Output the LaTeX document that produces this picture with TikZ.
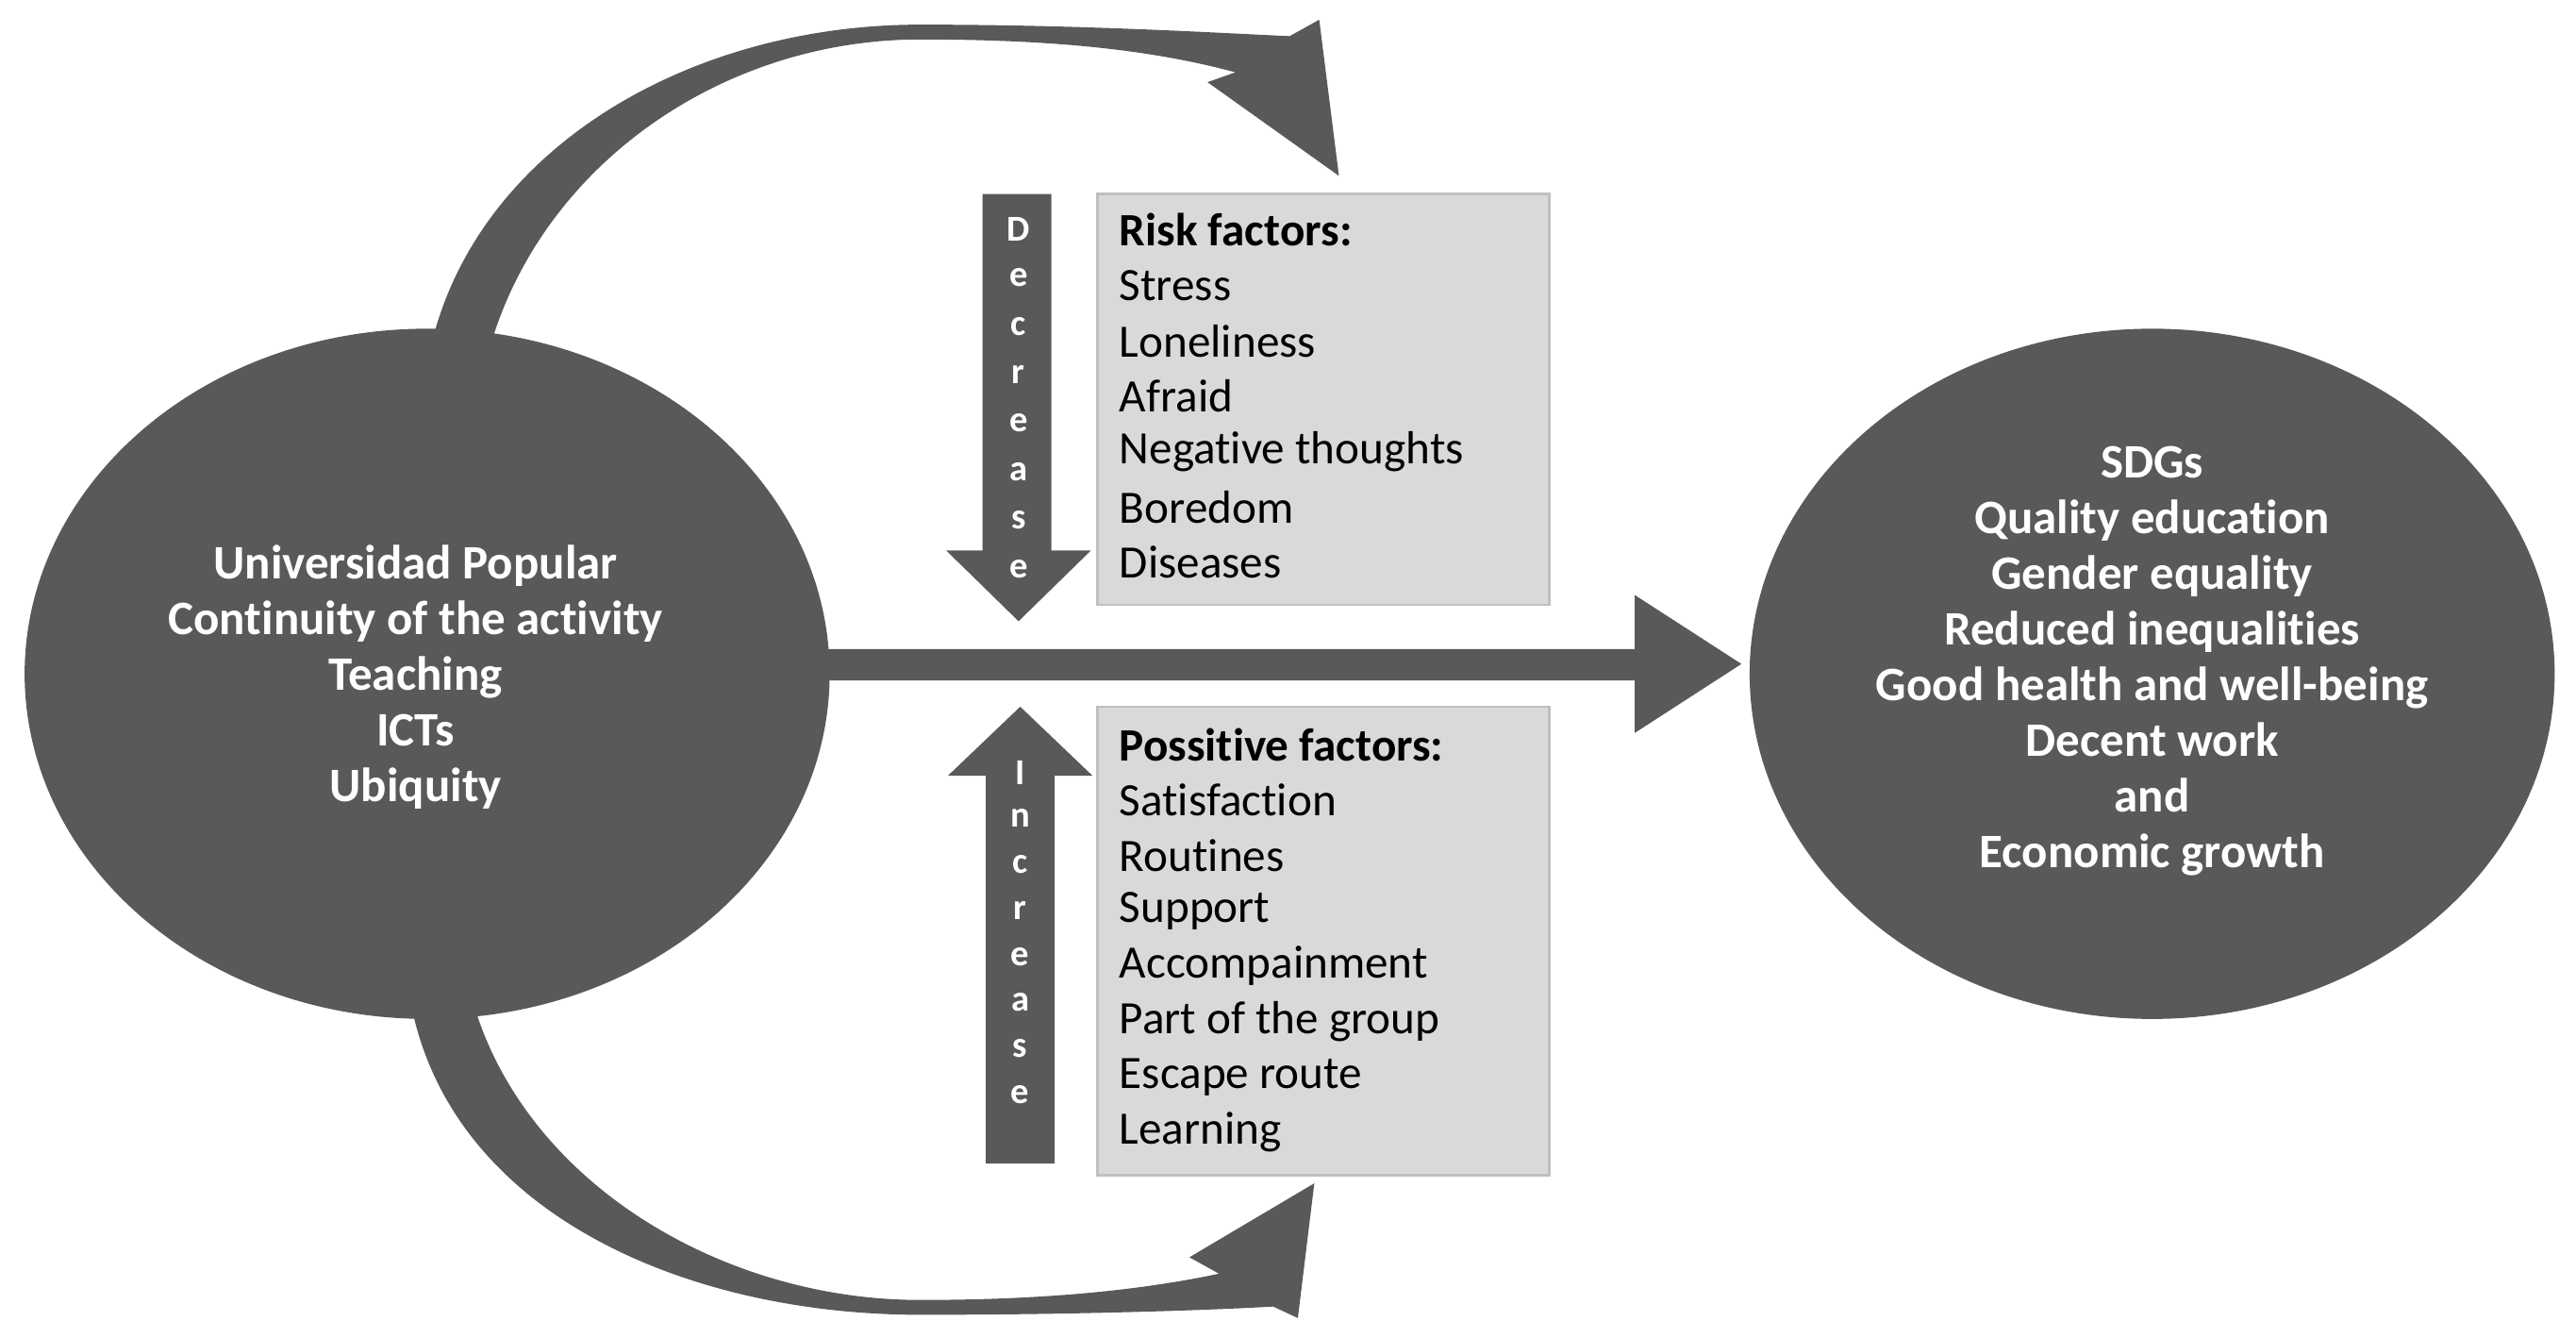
\documentclass[tikz,border=0pt]{standalone}
\usepackage{fontspec}
\setmainfont{Carlito}[RawFeature={-liga;-clig;-dlig;-calt}]
\definecolor{dk}{HTML}{595959}
\definecolor{bx}{HTML}{D9D9D9}
\definecolor{bxl}{HTML}{BFBFBF}
\begin{document}
\begin{tikzpicture}[x=0.01742cm,y=-0.01742cm,
  oval/.style={text=white,font=\fontsize{14.5}{16.8}\selectfont\bfseries,align=center,inner sep=0pt},
  box/.style={fill=bx,draw=bxl,line width=0.8pt},
  item/.style={anchor=west,font=\fontsize{14}{16.7}\selectfont,inner sep=0pt},
  letter/.style={text=white,font=\fontsize{11}{12}\selectfont\bfseries,inner sep=0pt}]
\useasboundingbox (0,0) rectangle (1568,814);
% ellipses
\fill[dk] (260,410) ellipse [x radius=245,y radius=210];
\fill[dk] (1310,410) ellipse [x radius=245,y radius=210];
\node[oval] (left) at (253,412) {Universidad Popular\\Continuity of the activity\\Teaching\\ICTs\\Ubiquity};
\node[oval] (right) at (1310,402) {SDGs\\Quality education\\Gender equality\\Reduced inequalities\\Good health and well-being\\Decent work\\and\\Economic growth};
% main arrow
\fill[dk] (503,395) -- (995,395) -- (995,362) -- (1060,404) -- (995,446) -- (995,414) -- (503,414) -- cycle;
% curved arrows
\fill[dk] (262,212) .. controls (290,90) and (420,15) .. (560,15) .. controls (660,15) and (740,20) .. (785,22)
  -- (803,12) -- (815,107) -- (735,50) -- (752,44) .. controls (700,30) and (640,24) .. (560,24)
  .. controls (440,24) and (330,100) .. (298,212) -- cycle;
\fill[dk] (250,610) .. controls (275,740) and (420,800) .. (560,800) .. controls (660,800) and (740,797) .. (775,795)
  -- (790,802) -- (800,720) -- (724,765) -- (742,775) .. controls (690,786) and (630,791) .. (560,791)
  .. controls (440,791) and (320,720) .. (288,610) -- cycle;
% boxes
\draw[box] (668,118) rectangle (943,368);
\draw[box] (668,430) rectangle (943,715);
\node[item,font=\fontsize{14}{16.7}\selectfont\bfseries] (r0) at (681,140) {Risk factors:};
\foreach \t [count=\i] in {Stress,Loneliness,Afraid,Negative thoughts,Boredom,Diseases}
  \node[item] (r\i) at (681,{140+33.7*\i}) {\t};
\node[item,font=\fontsize{14}{16.7}\selectfont\bfseries] (p0) at (681,453) {Possitive factors:};
\foreach \t [count=\i] in {Satisfaction,Routines,Support,Accompainment,Part of the group,Escape route,Learning}
  \node[item] (p\i) at (681,{453+33.7*\i}) {\t};
% vertical arrows
\fill[dk] (598,118) -- (640,118) -- (640,335) -- (664,335) -- (620,378) -- (576,335) -- (598,335) -- cycle;
\fill[dk] (600,708) -- (642,708) -- (642,472) -- (665,472) -- (621,430) -- (577,472) -- (600,472) -- cycle;
\foreach \l [count=\i] in {D,e,c,r,e,a,s,e}
  \node[letter] (d\i) at (620,{110+29.5*\i}) {\l};
\foreach \l [count=\i] in {I,n,c,r,e,a,s,e}
  \node[letter] (n\i) at (621,{442+28*\i}) {\l};
\end{tikzpicture}
\end{document}
